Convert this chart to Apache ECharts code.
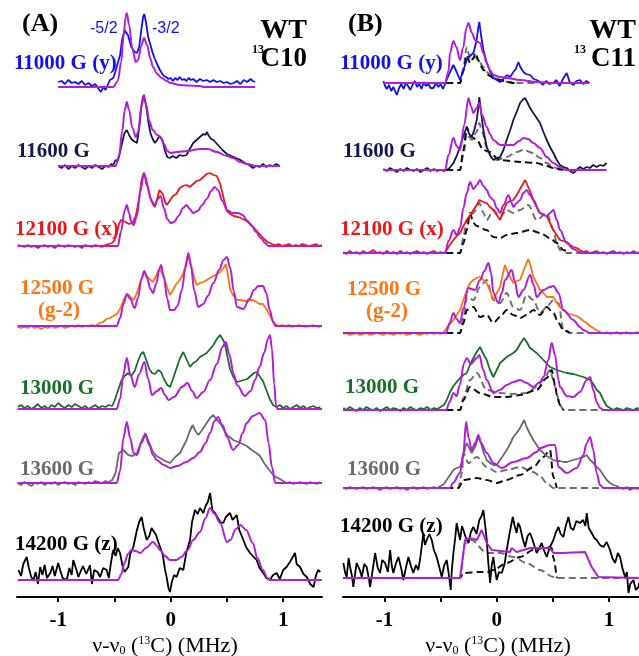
<!DOCTYPE html>
<html>
<head>
<meta charset="utf-8">
<script src="https://cdn.jsdelivr.net/npm/echarts@6/dist/echarts.min.js"></script>
<style>
html, body { margin: 0; padding: 0; background: #fff; }
#chart { width: 639px; height: 656px; }
</style>
</head>
<body>
<div id="chart"></div>
<script>
// field labels, top to bottom
var fieldsA = ['11000 G (y)', '11600 G', '12100 G (x)', '12500 G', '13000 G', '13600 G', '14200 G (z)']
var fieldsB = ['11000 G (y)', '11600 G', '12100 G (x)', '12500 G', '13000 G', '13600 G', '14200 G (z)']
var fieldColors = ['#1010f0', '#16164e', '#f01616', '#ff7410', '#18702a', '#6a6a6a', '#000000']
// vertical stacking offset of each spectrum (y units)
var offsetsA = [510, 431, 351, 271, 188, 114, 17]
var offsetsB = [514, 427, 344, 264, 187, 109, 19]
var xTicks = [-1, -0.5, 0, 0.5, 1]
var xLabels = [-1, 0, 1]

// ---- panel A : experiment / simulation pairs, [MHz, intensity]
var a11000Exp = [[-1.0,5],[-0.97,6],[-0.94,3],[-0.91,7],[-0.88,4],[-0.85,5],[-0.82,3],[-0.79,6],[-0.76,2],[-0.73,4],[-0.70,1],[-0.67,3],[-0.64,-2],[-0.62,-5],[-0.60,0],[-0.58,-3],[-0.56,2],[-0.54,7],[-0.51,9],[-0.49,16],[-0.47,24],[-0.45,32],[-0.43,48],[-0.41,57],[-0.40,59],[-0.38,52],[-0.35,40],[-0.32,35],[-0.30,34],[-0.28,40],[-0.26,58],[-0.245,70],[-0.235,73],[-0.22,65],[-0.2,50],[-0.18,42],[-0.16,34],[-0.14,28],[-0.125,24],[-0.10,18],[-0.08,14],[-0.06,11],[-0.04,10],[-0.02,8],[0.0,9],[0.02,6],[0.04,9],[0.06,7],[0.08,10],[0.10,7],[0.12,8],[0.14,6],[0.16,9],[0.18,7],[0.20,8],[0.23,5],[0.26,8],[0.29,6],[0.32,7],[0.35,5],[0.38,7],[0.41,5],[0.44,6],[0.47,4],[0.50,5],[0.53,3],[0.56,4],[0.59,6],[0.62,3],[0.65,7],[0.68,5],[0.71,8],[0.73,6],[0.75,5]]
var a11000Sim = [[-1.0,0],[-0.51,0],[-0.47,6],[-0.44,25],[-0.42,50],[-0.40,70],[-0.39,74],[-0.37,62],[-0.34,38],[-0.31,25],[-0.29,27],[-0.26,42],[-0.237,49],[-0.21,42],[-0.18,28],[-0.157,20],[-0.12,13],[-0.08,9],[-0.035,6],[0.0,4],[0.08,2],[0.15,1.5],[0.26,1],[0.30,0],[0.75,0]]
var a11600Exp = [[-1.0,0],[-0.97,-2],[-0.94,1],[-0.91,-3],[-0.88,0],[-0.85,-2],[-0.82,1],[-0.79,-1],[-0.76,-3],[-0.73,0],[-0.70,-2],[-0.67,1],[-0.64,-1],[-0.61,-3],[-0.58,0],[-0.55,-1],[-0.53,2],[-0.51,1],[-0.49,6],[-0.47,5],[-0.45,14],[-0.43,24],[-0.41,33],[-0.39,36],[-0.37,31],[-0.35,27],[-0.33,25],[-0.30,23],[-0.28,38],[-0.26,60],[-0.245,70],[-0.235,72],[-0.22,62],[-0.20,45],[-0.18,33],[-0.16,27],[-0.14,23],[-0.12,26],[-0.10,30],[-0.086,31],[-0.07,25],[-0.05,15],[-0.03,9],[-0.006,8],[0.02,10],[0.05,8],[0.08,11],[0.11,10],[0.14,11],[0.17,17],[0.20,23],[0.23,26],[0.26,29],[0.29,32],[0.31,31],[0.32,34],[0.34,30],[0.36,27],[0.38,26],[0.42,21],[0.46,16],[0.50,12],[0.54,10],[0.58,8],[0.62,6],[0.66,3],[0.70,1],[0.73,-2],[0.76,0],[0.79,-1],[0.82,2],[0.85,-1],[0.88,1],[0.91,0],[0.94,2],[0.97,0]]
var a11600Sim = [[-1.0,0],[-0.49,0],[-0.46,10],[-0.43,35],[-0.41,55],[-0.39,64],[-0.37,56],[-0.34,38],[-0.31,29],[-0.29,34],[-0.26,60],[-0.237,71],[-0.22,62],[-0.19,45],[-0.16,36],[-0.12,31],[-0.09,29],[-0.06,22],[-0.03,15],[0.0,13],[0.05,14],[0.15,15],[0.26,17],[0.33,17],[0.41,14],[0.5,10],[0.555,8],[0.62,4],[0.68,2],[0.76,0],[0.97,0]]
var a12100Exp = [[-1.36,1],[-1.33,0],[-1.30,-1],[-1.27,1],[-1.24,-1],[-1.21,0],[-1.18,-2],[-1.15,0],[-1.12,1],[-1.09,-1],[-1.06,0],[-1.03,-2],[-1.0,1],[-0.97,0],[-0.94,-1],[-0.91,1],[-0.88,0],[-0.85,-1],[-0.82,0],[-0.79,-2],[-0.76,1],[-0.73,0],[-0.70,-1],[-0.67,1],[-0.64,0],[-0.61,-1],[-0.58,1],[-0.55,2],[-0.52,3],[-0.50,6],[-0.48,12],[-0.46,22],[-0.44,26],[-0.42,25],[-0.40,24],[-0.37,22],[-0.34,23],[-0.31,30],[-0.28,48],[-0.26,65],[-0.24,73],[-0.22,68],[-0.19,52],[-0.16,42],[-0.14,39],[-0.12,47],[-0.10,56],[-0.086,58],[-0.07,52],[-0.05,44],[-0.035,41],[-0.01,45],[0.02,50],[0.05,52],[0.08,58],[0.11,60],[0.14,61],[0.17,59],[0.20,62],[0.23,65],[0.26,66],[0.29,69],[0.32,72],[0.35,73],[0.38,71],[0.41,70],[0.44,62],[0.47,48],[0.50,35],[0.53,32],[0.56,30],[0.60,29],[0.64,27],[0.675,25],[0.71,22],[0.75,17],[0.79,12],[0.83,7],[0.86,4],[0.90,2],[0.93,1],[0.96,2],[0.99,0],[1.02,1],[1.05,2],[1.08,0],[1.11,1],[1.14,0],[1.17,2],[1.20,1],[1.23,0],[1.26,1],[1.29,2],[1.32,0],[1.345,1]]
var a12100Sim = [[-1.36,0],[-0.47,0],[-0.44,15],[-0.41,35],[-0.39,41],[-0.37,33],[-0.35,24],[-0.33,21],[-0.30,30],[-0.27,55],[-0.237,73],[-0.21,60],[-0.17,45],[-0.14,41],[-0.115,47],[-0.09,50],[-0.06,38],[-0.03,27],[0.0,23],[0.03,24],[0.07,30],[0.11,38],[0.14,41],[0.17,37],[0.2,33],[0.24,35],[0.28,41],[0.32,47],[0.36,55],[0.39,59],[0.42,56],[0.46,45],[0.5,36],[0.55,33],[0.6,33],[0.64,31],[0.675,26],[0.72,20],[0.76,14],[0.8,8],[0.84,3],[0.87,0],[1.345,0]]
var a12500Exp = [[-1.36,-1],[-1.33,-2],[-1.30,-1],[-1.27,-2],[-1.24,0],[-1.21,-2],[-1.18,-1],[-1.15,-3],[-1.12,-1],[-1.09,-2],[-1.06,0],[-1.03,-2],[-1.0,-1],[-0.97,0],[-0.94,-2],[-0.91,-1],[-0.88,0],[-0.85,-1],[-0.82,1],[-0.79,-1],[-0.76,0],[-0.73,0],[-0.70,1],[-0.67,0],[-0.66,2],[-0.63,3],[-0.60,4],[-0.57,7],[-0.54,8],[-0.51,10],[-0.48,12],[-0.45,17],[-0.42,26],[-0.39,31],[-0.37,31],[-0.35,28],[-0.33,26],[-0.30,33],[-0.27,44],[-0.235,54],[-0.21,50],[-0.18,46],[-0.157,44],[-0.13,50],[-0.10,57],[-0.086,59],[-0.06,50],[-0.03,38],[-0.006,31],[0.02,36],[0.05,42],[0.08,46],[0.11,52],[0.14,64],[0.157,71],[0.18,62],[0.21,48],[0.23,41],[0.26,43],[0.29,44],[0.32,46],[0.35,48],[0.38,50],[0.41,52],[0.44,54],[0.47,58],[0.49,62],[0.51,50],[0.53,36],[0.56,30],[0.59,26],[0.62,26],[0.66,25],[0.70,26],[0.73,26],[0.76,24],[0.79,22],[0.82,22],[0.85,17],[0.88,11],[0.91,5],[0.93,2],[0.96,0],[0.99,1],[1.02,0],[1.05,1],[1.08,-1],[1.11,0],[1.14,1],[1.17,0],[1.20,-1],[1.23,0],[1.26,1],[1.29,0],[1.32,-1],[1.345,0]]
var a12500Sim = [[-1.36,0],[-0.48,0],[-0.45,8],[-0.42,22],[-0.39,32],[-0.36,27],[-0.32,18],[-0.29,28],[-0.26,47],[-0.235,55],[-0.21,48],[-0.18,37],[-0.157,33],[-0.13,42],[-0.1,57],[-0.086,61],[-0.06,48],[-0.03,27],[-0.006,16],[0.03,16],[0.06,20],[0.1,36],[0.13,58],[0.157,73],[0.18,60],[0.21,35],[0.245,19],[0.29,22],[0.33,30],[0.38,43],[0.43,56],[0.47,66],[0.5,69],[0.53,58],[0.56,35],[0.59,19],[0.645,17],[0.70,27],[0.74,36],[0.78,40],[0.82,40],[0.85,33],[0.88,16],[0.91,4],[0.93,0],[1.345,0]]
var a13000Exp = [[-1.36,2],[-1.33,4],[-1.30,1],[-1.27,3],[-1.24,0],[-1.21,2],[-1.18,5],[-1.15,1],[-1.12,3],[-1.09,0],[-1.06,4],[-1.03,2],[-1.0,6],[-0.97,3],[-0.94,1],[-0.91,4],[-0.88,2],[-0.85,5],[-0.82,3],[-0.79,1],[-0.76,3],[-0.73,0],[-0.70,2],[-0.67,4],[-0.64,1],[-0.61,3],[-0.58,2],[-0.55,4],[-0.52,3],[-0.50,8],[-0.47,18],[-0.44,28],[-0.41,33],[-0.38,36],[-0.35,33],[-0.32,38],[-0.29,48],[-0.265,55],[-0.243,57],[-0.22,50],[-0.19,40],[-0.166,36],[-0.14,35],[-0.11,39],[-0.086,37],[-0.06,30],[-0.03,24],[-0.006,22],[0.02,30],[0.05,40],[0.08,50],[0.112,57],[0.14,50],[0.172,42],[0.20,46],[0.23,48],[0.26,52],[0.29,54],[0.32,56],[0.35,60],[0.38,64],[0.41,70],[0.439,74],[0.46,70],[0.48,66],[0.50,55],[0.527,40],[0.557,32],[0.59,27],[0.62,28],[0.65,29],[0.68,30],[0.71,33],[0.74,36],[0.764,37],[0.79,33],[0.82,28],[0.85,19],[0.88,10],[0.91,4],[0.94,2],[0.97,4],[1.0,1],[1.03,3],[1.06,0],[1.09,2],[1.12,4],[1.15,1],[1.18,3],[1.21,0],[1.24,2],[1.27,3],[1.30,1],[1.33,2]]
var a13000Sim = [[-1.36,0],[-0.48,0],[-0.45,10],[-0.42,35],[-0.39,51],[-0.36,35],[-0.32,22],[-0.28,35],[-0.234,47],[-0.2,30],[-0.166,14],[-0.12,18],[-0.086,21],[-0.05,14],[-0.02,9],[0.03,12],[0.1,22],[0.15,26],[0.19,18],[0.23,11],[0.29,17],[0.35,29],[0.41,45],[0.46,62],[0.49,67],[0.52,55],[0.56,35],[0.59,24],[0.66,13],[0.71,18],[0.75,29],[0.79,42],[0.83,56],[0.865,70],[0.883,74],[0.90,60],[0.92,25],[0.936,4],[0.95,0],[1.345,0]]
var a13600Exp = [[-1.36,0],[-1.33,-2],[-1.30,1],[-1.27,-1],[-1.24,-3],[-1.21,0],[-1.18,-1],[-1.15,1],[-1.12,-2],[-1.09,0],[-1.06,-1],[-1.03,1],[-1.0,-2],[-0.97,0],[-0.94,1],[-0.91,-1],[-0.88,0],[-0.85,-2],[-0.82,1],[-0.79,0],[-0.76,-1],[-0.73,1],[-0.70,0],[-0.67,2],[-0.64,1],[-0.61,0],[-0.58,2],[-0.55,1],[-0.52,3],[-0.49,10],[-0.46,30],[-0.42,33],[-0.377,28],[-0.34,27],[-0.30,30],[-0.26,42],[-0.225,50],[-0.19,40],[-0.157,31],[-0.125,27],[-0.095,25],[-0.05,22],[-0.006,20],[0.04,26],[0.083,30],[0.11,36],[0.142,43],[0.17,52],[0.195,58],[0.22,52],[0.246,48],[0.28,53],[0.32,60],[0.35,65],[0.379,68],[0.41,63],[0.439,60],[0.47,54],[0.50,48],[0.557,43],[0.60,41],[0.64,39],[0.676,37],[0.72,33],[0.76,30],[0.794,27],[0.83,20],[0.883,12],[0.92,7],[0.97,4],[1.0,2],[1.03,0],[1.06,1],[1.09,-1],[1.12,0],[1.15,1],[1.18,0],[1.21,-1],[1.24,1],[1.27,0],[1.30,-1],[1.33,1]]
var a13600Sim = [[-1.36,0],[-0.48,0],[-0.45,12],[-0.42,45],[-0.39,61],[-0.36,45],[-0.33,30],[-0.30,28],[-0.26,40],[-0.225,48],[-0.19,38],[-0.157,28],[-0.125,23],[-0.06,18],[-0.006,15],[0.06,17],[0.14,21],[0.2,25],[0.26,31],[0.31,40],[0.35,50],[0.39,62],[0.42,66],[0.46,58],[0.5,46],[0.555,33],[0.6,38],[0.64,50],[0.675,60],[0.73,67],[0.79,70],[0.84,63],[0.87,40],[0.9,16],[0.93,0],[1.345,0]]
var a14200Exp = [[-1.354,10],[-1.33,4],[-1.31,16],[-1.28,23],[-1.26,12],[-1.24,3],[-1.22,0],[-1.20,8],[-1.18,-4],[-1.16,13],[-1.14,5],[-1.12,15],[-1.10,2],[-1.07,7],[-1.05,14],[-1.03,4],[-1.0,17],[-0.98,9],[-0.96,2],[-0.925,0],[-0.90,12],[-0.88,5],[-0.866,20],[-0.84,11],[-0.82,3],[-0.806,7],[-0.78,14],[-0.75,6],[-0.717,15],[-0.70,-4],[-0.68,10],[-0.65,8],[-0.628,3],[-0.60,12],[-0.569,10],[-0.55,2],[-0.53,18],[-0.51,30],[-0.49,24],[-0.47,32],[-0.45,27],[-0.43,15],[-0.41,8],[-0.377,13],[-0.36,26],[-0.332,33],[-0.30,50],[-0.28,58],[-0.258,63],[-0.24,52],[-0.213,40],[-0.19,44],[-0.17,52],[-0.154,50],[-0.13,45],[-0.11,38],[-0.095,40],[-0.07,25],[-0.05,10],[-0.036,3],[-0.02,-8],[-0.006,-12],[0.01,-2],[0.03,5],[0.053,3],[0.08,12],[0.112,10],[0.14,28],[0.172,40],[0.19,58],[0.216,70],[0.24,66],[0.26,72],[0.29,67],[0.31,74],[0.33,78],[0.35,87],[0.37,70],[0.394,67],[0.42,62],[0.44,58],[0.468,57],[0.49,63],[0.527,67],[0.55,60],[0.587,65],[0.61,50],[0.646,40],[0.67,33],[0.705,27],[0.73,24],[0.764,20],[0.79,12],[0.823,7],[0.85,2],[0.883,0],[0.91,5],[0.942,7],[0.97,1],[1.0,10],[1.03,13],[1.06,18],[1.08,22],[1.105,27],[1.12,16],[1.15,13],[1.18,6],[1.21,3],[1.24,-4],[1.27,-7],[1.29,4],[1.31,10],[1.33,8]]
var a14200Sim = [[-1.36,0],[-0.466,0],[-0.44,6],[-0.41,17],[-0.38,26],[-0.35,30],[-0.31,29],[-0.27,27],[-0.22,32],[-0.157,38],[-0.12,34],[-0.095,30],[-0.05,24],[-0.006,20],[0.05,20],[0.094,23],[0.15,30],[0.2,40],[0.26,48],[0.31,62],[0.35,72],[0.39,66],[0.44,57],[0.5,38],[0.53,40],[0.58,51],[0.62,55],[0.67,50],[0.73,37],[0.77,22],[0.82,10],[0.86,2],[0.88,0],[1.345,0]]

// ---- panel B : experiment, simulation, two component simulations (dashed)
var b11000Exp = [[-1.01,2],[-0.995,-3],[-0.98,-6],[-0.96,-2],[-0.94,-8],[-0.921,-4],[-0.891,-12],[-0.87,-5],[-0.85,-1],[-0.83,-6],[-0.81,0],[-0.79,-3],[-0.77,-7],[-0.75,-2],[-0.73,2],[-0.71,-4],[-0.69,-1],[-0.67,-6],[-0.65,1],[-0.63,-3],[-0.61,-1],[-0.59,-5],[-0.564,-5],[-0.54,0],[-0.52,-4],[-0.50,-1],[-0.48,-6],[-0.446,3],[-0.42,10],[-0.386,18],[-0.357,11],[-0.327,3],[-0.30,12],[-0.267,23],[-0.24,27],[-0.208,30],[-0.18,42],[-0.165,55],[-0.155,61],[-0.14,48],[-0.119,33],[-0.10,25],[-0.089,20],[-0.06,12],[-0.03,5],[0.0,3],[0.03,1],[0.06,4],[0.089,8],[0.12,6],[0.148,11],[0.17,14],[0.193,21],[0.21,16],[0.238,11],[0.26,9],[0.297,8],[0.33,4],[0.356,3],[0.386,1],[0.41,-2],[0.44,2],[0.47,-1],[0.505,0],[0.53,3],[0.56,-3],[0.59,4],[0.624,10],[0.65,1],[0.683,-2],[0.71,2],[0.742,3],[0.77,-1],[0.80,2],[0.826,0]]
var b11000Sim = [[-1.01,0],[-0.46,0],[-0.43,12],[-0.416,30],[-0.386,42],[-0.36,36],[-0.327,23],[-0.30,35],[-0.27,55],[-0.252,60],[-0.22,50],[-0.193,43],[-0.165,41],[-0.149,40],[-0.12,30],[-0.089,20],[-0.06,13],[-0.03,8],[0.03,6],[0.089,5],[0.208,3],[0.356,1],[0.505,0],[0.826,0]]
var b11000CompA = [[-0.45,0],[-0.327,0],[-0.297,15],[-0.267,36],[-0.245,28],[-0.223,23],[-0.19,26],[-0.16,22],[-0.12,16],[-0.089,11],[-0.04,6],[0.03,3],[0.1,1],[0.208,0],[0.35,0]]
var b11000CompB = [[-0.45,0],[-0.327,0],[-0.297,12],[-0.267,28],[-0.238,20],[-0.208,25],[-0.19,30],[-0.16,22],[-0.119,13],[-0.06,7],[-0.03,5],[0.03,3],[0.089,1],[0.15,0],[0.2,0]]
var b11600Exp = [[-1.01,1],[-0.98,-1],[-0.95,2],[-0.92,0],[-0.89,-2],[-0.86,1],[-0.83,-1],[-0.80,2],[-0.77,0],[-0.74,-1],[-0.71,1],[-0.68,-2],[-0.65,0],[-0.62,2],[-0.59,-1],[-0.56,1],[-0.53,-1],[-0.50,0],[-0.47,-1],[-0.446,0],[-0.42,2],[-0.386,7],[-0.357,14],[-0.327,23],[-0.297,34],[-0.267,43],[-0.245,36],[-0.223,33],[-0.2,40],[-0.178,50],[-0.165,62],[-0.155,73],[-0.14,58],[-0.119,40],[-0.089,23],[-0.06,15],[-0.03,10],[0.0,12],[0.03,13],[0.06,20],[0.089,30],[0.12,40],[0.148,50],[0.178,58],[0.208,67],[0.23,70],[0.253,72],[0.28,66],[0.297,62],[0.326,57],[0.356,52],[0.386,47],[0.416,38],[0.446,30],[0.475,23],[0.505,17],[0.535,10],[0.564,5],[0.594,3],[0.624,2],[0.653,-1],[0.683,-3],[0.71,0],[0.742,3],[0.77,1],[0.802,3],[0.83,2],[0.86,5],[0.89,3],[0.921,5],[0.95,4],[0.98,7]]
var b11600Sim = [[-1.01,0],[-0.46,0],[-0.43,15],[-0.386,32],[-0.357,24],[-0.327,20],[-0.29,45],[-0.252,72],[-0.23,64],[-0.208,57],[-0.18,62],[-0.155,67],[-0.13,55],[-0.089,43],[-0.06,36],[-0.03,30],[0.03,25],[0.148,25],[0.2,29],[0.238,32],[0.28,31],[0.326,27],[0.386,22],[0.446,13],[0.505,7],[0.564,3],[0.62,0],[0.98,0]]
var b11600CompA = [[-0.45,0],[-0.327,0],[-0.297,15],[-0.267,37],[-0.238,32],[-0.223,30],[-0.18,38],[-0.155,47],[-0.13,38],[-0.089,23],[-0.045,12],[0.0,10],[0.089,13],[0.178,18],[0.238,20],[0.326,17],[0.386,12],[0.446,7],[0.505,3],[0.564,0],[0.62,0]]
var b11600CompB = [[-0.45,0],[-0.327,0],[-0.297,20],[-0.267,43],[-0.238,35],[-0.223,33],[-0.178,30],[-0.119,20],[-0.06,18],[0.0,12],[0.03,10],[0.208,8],[0.356,7],[0.446,4],[0.505,2],[0.594,0]]
var b12100Exp = [[-1.367,1],[-1.34,-1],[-1.31,2],[-1.28,0],[-1.25,1],[-1.22,-1],[-1.19,2],[-1.16,0],[-1.13,1],[-1.10,3],[-1.07,0],[-1.04,1],[-1.01,-1],[-0.98,2],[-0.95,0],[-0.92,1],[-0.89,-1],[-0.86,2],[-0.83,0],[-0.80,1],[-0.77,-1],[-0.74,1],[-0.71,2],[-0.68,0],[-0.65,1],[-0.62,-1],[-0.59,1],[-0.56,2],[-0.53,0],[-0.50,1],[-0.47,0],[-0.446,3],[-0.42,8],[-0.386,13],[-0.357,17],[-0.327,20],[-0.297,27],[-0.267,33],[-0.238,38],[-0.208,43],[-0.178,48],[-0.155,53],[-0.12,51],[-0.089,50],[-0.06,46],[-0.03,43],[0.0,38],[0.03,33],[0.06,42],[0.089,50],[0.12,52],[0.148,53],[0.178,58],[0.208,64],[0.238,70],[0.253,73],[0.267,72],[0.297,62],[0.326,53],[0.356,46],[0.386,40],[0.416,38],[0.446,37],[0.475,30],[0.505,23],[0.535,18],[0.564,13],[0.594,12],[0.624,11],[0.653,8],[0.683,6],[0.713,5],[0.742,3],[0.772,1],[0.80,2],[0.83,0],[0.86,1],[0.89,2],[0.92,0],[0.95,1],[0.98,-1],[1.01,1],[1.04,2],[1.07,0],[1.10,1],[1.13,-1],[1.16,1],[1.19,0],[1.22,2],[1.25,0],[1.268,1]]
var b12100Sim = [[-1.37,0],[-0.46,0],[-0.43,12],[-0.386,23],[-0.357,18],[-0.327,25],[-0.297,45],[-0.267,60],[-0.238,71],[-0.208,64],[-0.178,68],[-0.149,73],[-0.119,67],[-0.089,63],[-0.06,56],[-0.03,53],[0.0,45],[0.03,40],[0.06,48],[0.104,58],[0.134,50],[0.148,46],[0.178,50],[0.208,53],[0.238,60],[0.267,63],[0.297,58],[0.326,53],[0.386,40],[0.446,37],[0.475,40],[0.505,43],[0.535,33],[0.564,23],[0.624,10],[0.683,4],[0.742,1],[0.772,0],[1.268,0]]
var b12100CompA = [[-0.45,0],[-0.327,0],[-0.297,15],[-0.267,33],[-0.208,40],[-0.155,50],[-0.119,40],[-0.089,33],[-0.03,43],[0.03,36],[0.089,43],[0.148,40],[0.208,43],[0.282,48],[0.356,33],[0.446,40],[0.505,23],[0.535,10],[0.564,3],[0.624,0],[1.268,0]]
var b12100CompB = [[-0.45,0],[-0.327,0],[-0.297,10],[-0.267,23],[-0.238,40],[-0.208,30],[-0.178,27],[-0.089,23],[-0.03,16],[0.03,15],[0.089,18],[0.178,20],[0.297,23],[0.386,20],[0.475,15],[0.535,10],[0.594,3],[0.653,0]]
var b12500Exp = [[-1.367,-1],[-1.34,0],[-1.31,-2],[-1.28,-1],[-1.25,0],[-1.22,-2],[-1.19,-1],[-1.16,0],[-1.13,-2],[-1.10,-1],[-1.07,0],[-1.04,-1],[-1.01,-2],[-0.98,0],[-0.95,-1],[-0.92,-2],[-0.89,0],[-0.86,-1],[-0.83,0],[-0.80,-2],[-0.77,-1],[-0.74,0],[-0.71,-1],[-0.68,-2],[-0.65,0],[-0.62,-1],[-0.59,0],[-0.56,-1],[-0.53,0],[-0.50,-1],[-0.47,1],[-0.446,5],[-0.416,9],[-0.386,13],[-0.357,18],[-0.327,23],[-0.297,33],[-0.267,43],[-0.238,50],[-0.208,53],[-0.178,55],[-0.149,56],[-0.119,53],[-0.089,50],[-0.06,42],[-0.03,33],[0.0,40],[0.03,46],[0.06,62],[0.074,68],[0.1,60],[0.148,50],[0.178,52],[0.208,53],[0.238,62],[0.265,70],[0.282,74],[0.3,68],[0.326,56],[0.356,50],[0.386,43],[0.416,40],[0.446,36],[0.475,36],[0.505,36],[0.535,30],[0.564,26],[0.594,23],[0.624,20],[0.653,19],[0.683,18],[0.713,17],[0.742,15],[0.772,12],[0.802,10],[0.83,7],[0.861,5],[0.89,3],[0.921,1],[0.95,0],[0.98,1],[1.01,-1],[1.04,0],[1.07,1],[1.10,-1],[1.13,0],[1.16,1],[1.19,-1],[1.22,0],[1.25,1],[1.268,0]]
var b12500Sim = [[-1.37,0],[-0.451,0],[-0.42,10],[-0.386,20],[-0.357,14],[-0.327,10],[-0.297,25],[-0.252,45],[-0.223,44],[-0.193,43],[-0.149,53],[-0.11,62],[-0.074,70],[-0.05,60],[-0.03,40],[0.015,30],[0.045,40],[0.074,53],[0.134,63],[0.16,52],[0.193,36],[0.238,43],[0.297,58],[0.33,48],[0.356,36],[0.416,43],[0.475,46],[0.505,47],[0.55,40],[0.594,23],[0.683,13],[0.742,6],[0.772,3],[0.832,0],[1.268,0]]
var b12500CompA = [[-0.45,0],[-0.327,0],[-0.297,15],[-0.267,36],[-0.208,33],[-0.149,46],[-0.089,53],[-0.03,33],[0.03,30],[0.089,40],[0.148,26],[0.208,23],[0.267,38],[0.326,33],[0.386,20],[0.446,26],[0.505,33],[0.55,30],[0.594,3],[0.653,0],[1.268,0]]
var b12500CompB = [[-0.45,0],[-0.327,0],[-0.297,10],[-0.267,23],[-0.208,26],[-0.149,16],[-0.089,18],[-0.03,10],[0.03,16],[0.089,23],[0.148,18],[0.208,15],[0.267,18],[0.326,23],[0.386,18],[0.446,26],[0.505,20],[0.55,10],[0.594,3],[0.653,0]]
var b13000Exp = [[-1.367,2],[-1.34,0],[-1.31,3],[-1.28,1],[-1.25,-1],[-1.22,2],[-1.19,0],[-1.16,3],[-1.13,1],[-1.10,0],[-1.07,2],[-1.04,-1],[-1.01,1],[-0.98,3],[-0.95,0],[-0.92,2],[-0.89,1],[-0.86,-1],[-0.83,2],[-0.80,0],[-0.77,3],[-0.74,1],[-0.71,0],[-0.68,2],[-0.65,1],[-0.62,3],[-0.59,0],[-0.56,2],[-0.53,1],[-0.50,3],[-0.47,5],[-0.446,10],[-0.416,18],[-0.386,24],[-0.357,28],[-0.327,32],[-0.297,35],[-0.267,37],[-0.238,45],[-0.208,52],[-0.178,58],[-0.149,63],[-0.119,56],[-0.089,50],[-0.06,40],[-0.03,33],[0.0,40],[0.03,47],[0.06,50],[0.089,53],[0.148,57],[0.178,60],[0.208,66],[0.244,72],[0.267,68],[0.297,62],[0.356,57],[0.416,50],[0.475,43],[0.535,40],[0.594,38],[0.624,37],[0.683,36],[0.742,34],[0.772,33],[0.832,30],[0.861,26],[0.891,20],[0.921,17],[0.95,10],[0.98,4],[1.01,2],[1.04,0],[1.07,2],[1.10,1],[1.13,0],[1.16,2],[1.19,1],[1.22,0],[1.25,2],[1.268,1]]
var b13000Sim = [[-1.37,0],[-0.451,0],[-0.42,8],[-0.386,17],[-0.357,14],[-0.33,25],[-0.29,47],[-0.267,52],[-0.23,46],[-0.178,52],[-0.155,55],[-0.12,40],[-0.089,30],[-0.03,17],[0.03,20],[0.089,25],[0.148,28],[0.208,30],[0.267,27],[0.326,23],[0.386,28],[0.416,33],[0.46,50],[0.49,67],[0.52,55],[0.55,30],[0.564,23],[0.624,14],[0.683,13],[0.742,18],[0.802,30],[0.832,33],[0.861,20],[0.891,8],[0.921,2],[0.951,0],[1.268,0]]
var b13000CompA = [[-0.45,0],[-0.327,0],[-0.297,12],[-0.238,30],[-0.178,37],[-0.089,20],[0.03,17],[0.148,16],[0.267,17],[0.356,23],[0.416,30],[0.475,40],[0.505,30],[0.52,23],[0.564,5],[0.594,0],[1.268,0]]
var b13000CompB = [[-0.45,0],[-0.327,0],[-0.297,10],[-0.238,23],[-0.149,17],[-0.03,13],[0.089,13],[0.208,15],[0.356,20],[0.446,32],[0.49,40],[0.52,25],[0.535,15],[0.564,5],[0.594,0]]
var b13600Exp = [[-1.367,0],[-1.34,-1],[-1.31,1],[-1.28,0],[-1.25,-1],[-1.22,0],[-1.19,1],[-1.16,-1],[-1.13,0],[-1.10,1],[-1.07,0],[-1.04,-2],[-1.01,0],[-0.98,1],[-0.95,-1],[-0.92,0],[-0.89,1],[-0.86,-1],[-0.83,0],[-0.80,-2],[-0.77,0],[-0.74,1],[-0.71,-1],[-0.68,0],[-0.65,1],[-0.62,-1],[-0.59,0],[-0.56,1],[-0.53,0],[-0.50,2],[-0.47,4],[-0.446,8],[-0.416,13],[-0.386,18],[-0.357,20],[-0.327,21],[-0.30,30],[-0.282,40],[-0.267,45],[-0.245,40],[-0.223,35],[-0.19,42],[-0.163,51],[-0.14,45],[-0.119,36],[-0.089,28],[-0.06,25],[-0.03,23],[0.0,23],[0.03,28],[0.06,33],[0.089,38],[0.119,44],[0.148,51],[0.178,55],[0.208,60],[0.244,68],[0.27,60],[0.297,54],[0.326,48],[0.356,43],[0.386,38],[0.416,35],[0.446,32],[0.475,30],[0.505,28],[0.535,27],[0.564,27],[0.594,26],[0.624,26],[0.653,27],[0.683,28],[0.713,29],[0.742,30],[0.772,31],[0.802,33],[0.832,28],[0.861,25],[0.891,21],[0.921,18],[0.95,13],[0.98,8],[1.01,5],[1.04,3],[1.07,2],[1.099,0],[1.13,-1],[1.16,1],[1.189,-2],[1.22,0],[1.25,-1],[1.268,0]]
var b13600Sim = [[-1.37,0],[-0.416,0],[-0.39,5],[-0.327,15],[-0.297,35],[-0.273,66],[-0.25,50],[-0.223,38],[-0.193,45],[-0.163,53],[-0.14,45],[-0.089,35],[-0.03,25],[0.045,20],[0.148,26],[0.267,30],[0.356,36],[0.386,40],[0.475,43],[0.52,43],[0.55,21],[0.624,15],[0.713,20],[0.772,33],[0.802,45],[0.832,51],[0.861,38],[0.89,15],[0.921,3],[0.951,0],[1.268,0]]
var b13600CompA = [[-0.45,0],[-0.342,0],[-0.31,15],[-0.297,35],[-0.252,25],[-0.178,31],[-0.089,21],[0.0,16],[0.089,18],[0.208,21],[0.326,16],[0.386,12],[0.446,5],[0.505,0],[1.268,0]]
var b13600CompB = [[-0.45,0],[-0.342,0],[-0.297,8],[-0.178,10],[-0.089,8],[0.0,5],[0.089,8],[0.208,13],[0.326,21],[0.416,31],[0.475,38],[0.505,11],[0.535,0]]
var b14200Exp = [[-1.367,15],[-1.35,5],[-1.337,1],[-1.32,20],[-1.307,11],[-1.29,2],[-1.278,-9],[-1.26,6],[-1.248,15],[-1.22,8],[-1.203,1],[-1.18,14],[-1.159,11],[-1.14,0],[-1.129,-9],[-1.10,12],[-1.084,25],[-1.06,10],[-1.04,5],[-1.02,18],[-0.995,15],[-0.97,6],[-0.95,28],[-0.935,12],[-0.921,5],[-0.90,14],[-0.876,21],[-0.85,9],[-0.832,-2],[-0.81,10],[-0.787,21],[-0.765,12],[-0.743,5],[-0.72,13],[-0.70,8],[-0.684,18],[-0.67,30],[-0.654,45],[-0.64,33],[-0.624,38],[-0.60,44],[-0.579,38],[-0.56,28],[-0.535,21],[-0.51,10],[-0.49,1],[-0.47,12],[-0.446,18],[-0.43,6],[-0.41,-12],[-0.40,8],[-0.386,25],[-0.37,40],[-0.357,55],[-0.34,45],[-0.327,38],[-0.31,52],[-0.297,48],[-0.275,40],[-0.252,35],[-0.23,46],[-0.208,51],[-0.18,44],[-0.155,58],[-0.135,62],[-0.119,68],[-0.10,50],[-0.089,38],[-0.075,15],[-0.059,-5],[-0.045,12],[-0.03,21],[-0.015,8],[0.0,-2],[0.02,6],[0.045,5],[0.07,14],[0.089,28],[0.115,45],[0.143,61],[0.16,52],[0.178,45],[0.19,55],[0.208,51],[0.23,40],[0.253,31],[0.275,42],[0.297,45],[0.32,38],[0.356,25],[0.38,30],[0.401,35],[0.42,28],[0.446,21],[0.47,30],[0.505,38],[0.525,45],[0.55,51],[0.57,44],[0.594,41],[0.615,52],[0.639,61],[0.66,50],[0.683,48],[0.71,57],[0.742,55],[0.77,58],[0.79,52],[0.802,65],[0.82,50],[0.846,45],[0.87,40],[0.891,38],[0.92,33],[0.951,31],[0.98,36],[1.01,28],[1.03,20],[1.055,15],[1.08,25],[1.099,21],[1.12,10],[1.144,1],[1.16,6],[1.174,-15],[1.19,-6],[1.218,-2],[1.24,-12],[1.263,-9],[1.268,-5]]
var b14200Sim = [[-1.37,0],[-0.327,0],[-0.282,38],[-0.238,40],[-0.178,38],[-0.134,48],[-0.089,35],[-0.045,28],[-0.03,26],[0.119,26],[0.134,30],[0.178,26],[0.297,30],[0.475,30],[0.505,25],[0.579,25],[0.594,26],[0.787,26],[0.846,11],[0.906,1],[0.92,0],[1.268,0]]
var b14200CompA = [[-0.45,0],[-0.327,0],[-0.282,35],[-0.223,38],[-0.089,25],[0.03,25],[0.148,21],[0.267,15],[0.386,8],[0.505,1],[0.535,0],[1.268,0]]
var b14200CompB = [[-0.45,0],[-0.327,0],[-0.297,5],[-0.149,6],[-0.089,6],[-0.03,8],[0.089,15],[0.208,21],[0.326,28],[0.446,31],[0.49,30],[0.505,20],[0.535,0]]

var expA = [a11000Exp, a11600Exp, a12100Exp, a12500Exp, a13000Exp, a13600Exp, a14200Exp]
var simA = [a11000Sim, a11600Sim, a12100Sim, a12500Sim, a13000Sim, a13600Sim, a14200Sim]
var expB = [b11000Exp, b11600Exp, b12100Exp, b12500Exp, b13000Exp, b13600Exp, b14200Exp]
var simB = [b11000Sim, b11600Sim, b12100Sim, b12500Sim, b13000Sim, b13600Sim, b14200Sim]
var compAB = [b11000CompA, b11600CompA, b12100CompA, b12500CompA, b13000CompA, b13600CompA, b14200CompA]
var compBB = [b11000CompB, b11600CompB, b12100CompB, b12500CompB, b13000CompB, b13600CompB, b14200CompB]

var SIM = '#b21ed8'
var SERIF = 'Liberation Serif, Times New Roman, serif'

function trace(idx, pts, off, color, width, dash, smooth) {
	return {
		type: 'line',
		xAxisIndex: idx,
		yAxisIndex: idx,
		data: pts.map(function (p) { return [p[0], off + p[1]] }),
		showSymbol: false,
		symbol: 'none',
		smooth: smooth,
		smoothMonotone: 'x',
		silent: true,
		lineStyle: { color: color, width: width, type: dash ? [7, 4] : 'solid' }
	}
}

var series = []
for (var i = 0; i < 7; i++) {
	series.push(trace(0, expA[i], offsetsA[i], fieldColors[i], 1.8, false, false))
	series.push(trace(0, simA[i], offsetsA[i], SIM, 2, false, 0.35))
}
for (var j = 0; j < 7; j++) {
	series.push(trace(1, compAB[j], offsetsB[j], '#707070', 2, true, 0.3))
	series.push(trace(1, compBB[j], offsetsB[j], '#111111', 2, true, 0.3))
	series.push(trace(1, expB[j], offsetsB[j], fieldColors[j], 1.8, false, false))
	series.push(trace(1, simB[j], offsetsB[j], SIM, 2, false, j === 6 ? false : 0.35))
}

function xAxis(idx, min, max) {
	return {
		type: 'value',
		gridIndex: idx,
		min: min,
		max: max,
		axisLine: { lineStyle: { color: '#000', width: 2 } },
		axisTick: { customValues: xTicks, length: 5, lineStyle: { color: '#000', width: 2 } },
		axisLabel: {
			customValues: xLabels,
			margin: 13,
			color: '#000',
			fontFamily: SERIF,
			fontWeight: 'bold',
			fontSize: 21
		},
		splitLine: { show: false }
	}
}

function yAxis(idx) {
	return { type: 'value', gridIndex: idx, min: 0, max: 597, show: false }
}

function txt(x, y, s, color, size, bold, align, family) {
	return {
		type: 'text',
		x: x,
		y: y,
		silent: true,
		style: {
			text: s,
			fill: color,
			font: (bold ? 'bold ' : '') + size + 'px ' + (family || SERIF),
			textAlign: align || 'left',
			textVerticalAlign: 'middle'
		}
	}
}

function axisName(cx) {
	return {
		type: 'text',
		x: cx,
		y: 646,
		silent: true,
		style: {
			text: '{m|ν-ν}{sub|0}{m| (}{sup|13}{m|C) (MHz)}',
			textAlign: 'center',
			textVerticalAlign: 'middle',
			rich: {
				m: { fontFamily: SERIF, fontSize: 22, fill: '#000' },
				sub: { fontFamily: SERIF, fontSize: 12, fill: '#000', verticalAlign: 'bottom', padding: [10, 0, 0, 0] },
				sup: { fontFamily: SERIF, fontSize: 12, fill: '#000', verticalAlign: 'top', padding: [0, 0, 10, 0] }
			}
		}
	}
}

var labelYA = [64, 152, 230, 289, 389, 470, 545]
var labelXA = [14, 17, 15, 20, 20, 20, 15]
var labelYB = [64, 152, 230, 290, 388, 470, 527]
var labelXB = [340, 343, 340, 347, 345, 347, 340]

var graphics = [
	txt(22, 24, '(A)', '#000', 26, true),
	txt(348, 24, '(B)', '#000', 26, true),
	txt(307, 31, 'WT', '#000', 28, true, 'right'),
	txt(636, 31, 'WT', '#000', 28, true, 'right'),
	txt(307, 59, 'C10', '#000', 27, true, 'right'),
	txt(264, 50, '13', '#000', 12, true, 'right'),
	txt(636, 59, 'C11', '#000', 27, true, 'right'),
	txt(586, 50, '13', '#000', 12, true, 'right'),
	txt(90, 29, '-5/2', '#1010f0', 16, false, 'left', 'Liberation Sans, Arial, sans-serif'),
	txt(152, 29, '-3/2', '#1010f0', 16, false, 'left', 'Liberation Sans, Arial, sans-serif'),
	txt(38, 311, '(g-2)', fieldColors[3], 21, true),
	txt(366, 312, '(g-2)', fieldColors[3], 21, true),
	axisName(165),
	axisName(498)
]
for (var k = 0; k < 7; k++) {
	graphics.push(txt(labelXA[k], labelYA[k], fieldsA[k], fieldColors[k], 21, true))
	graphics.push(txt(labelXB[k], labelYB[k], fieldsB[k], fieldColors[k], 21, true))
}

var myChart = echarts.init(document.getElementById('chart'))
myChart.setOption({
	animation: false,
	backgroundColor: '#fff',
	grid: [
		{ left: 17, top: 0, width: 305, height: 597 },
		{ left: 343, top: 0, width: 296, height: 597 }
	],
	xAxis: [xAxis(0, -1.366, 1.345), xAxis(1, -1.37, 1.268)],
	yAxis: [yAxis(0), yAxis(1)],
	graphic: graphics,
	series: series
})
</script>
</body>
</html>
